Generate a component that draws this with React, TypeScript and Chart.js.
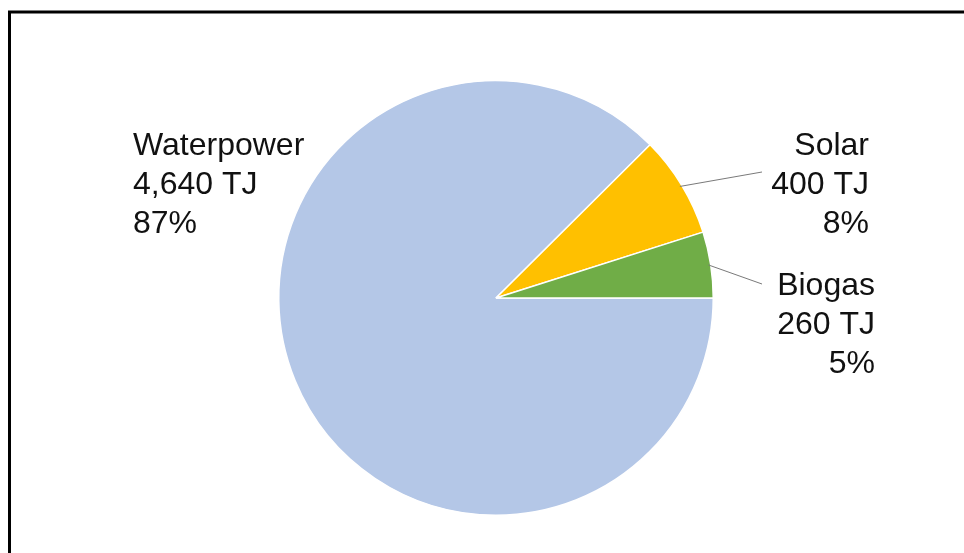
import React, { useEffect, useRef } from "react";
import { Chart, registerables } from "chart.js";

Chart.register(...registerables);

const categories = ["Waterpower", "Solar", "Biogas"];
const valuesTJ = [4640, 400, 260];
const percentLabels = ["87%", "8%", "5%"];
const sliceColors = ["#B4C7E7", "#FFC000", "#70AD47"];

// label placement relative to pie centre (px)
const labelLayout = [
  { dx: -363, dy: -143, align: "left" as CanvasTextAlign, leader: null as null | { dx: number; dy: number } },
  { dx: 373, dy: -143, align: "right" as CanvasTextAlign, leader: { dx: 266, dy: -126 } },
  { dx: 379, dy: -3, align: "right" as CanvasTextAlign, leader: { dx: 266, dy: -14 } },
];

const frameAndLabels = {
  id: "frameAndLabels",
  beforeDraw(chart: any) {
    const ctx = chart.ctx;
    ctx.save();
    ctx.fillStyle = "#ffffff";
    ctx.fillRect(0, 0, chart.width, chart.height);
    ctx.strokeStyle = "#000000";
    ctx.lineWidth = 3;
    ctx.beginPath();
    ctx.moveTo(9.5, chart.height + 10);
    ctx.lineTo(9.5, 12);
    ctx.lineTo(chart.width + 10, 12);
    ctx.stroke();
    ctx.restore();
  },
  afterDraw(chart: any) {
    const ctx = chart.ctx;
    const meta = chart.getDatasetMeta(0);
    ctx.save();
    meta.data.forEach((arc: any, i: number) => {
      const lay = labelLayout[i];
      const cx = arc.x;
      const cy = arc.y;
      if (lay.leader) {
        const mid = (arc.startAngle + arc.endAngle) / 2;
        const r = arc.outerRadius * 0.99;
        ctx.strokeStyle = "#7a7a7a";
        ctx.lineWidth = 1;
        ctx.beginPath();
        ctx.moveTo(cx + Math.cos(mid) * r, cy + Math.sin(mid) * r);
        ctx.lineTo(cx + lay.leader.dx, cy + lay.leader.dy);
        ctx.stroke();
      }
      const lines = [
        categories[i],
        valuesTJ[i].toLocaleString("en-US") + " TJ",
        percentLabels[i],
      ];
      ctx.fillStyle = "#111111";
      ctx.font = '32px "Liberation Sans", Arial, sans-serif';
      ctx.textAlign = lay.align;
      ctx.textBaseline = "alphabetic";
      lines.forEach((t, k) => {
        ctx.fillText(t, cx + lay.dx, cy + lay.dy + k * 39);
      });
    });
    ctx.restore();
  },
};

export default function App() {
  const ref = useRef<HTMLCanvasElement | null>(null);
  useEffect(() => {
    document.body.style.margin = "0";
    const chart = new Chart(ref.current as HTMLCanvasElement, {
      type: "pie",
      data: {
        labels: categories,
        datasets: [
          {
            data: valuesTJ,
            backgroundColor: sliceColors,
            borderColor: "#ffffff",
            borderWidth: 1.5,
          },
        ],
      },
      options: {
        responsive: false,
        animation: false,
        rotation: 90,
        layout: { padding: { top: 80, bottom: 37, left: 278, right: 250 } },
        plugins: {
          legend: { display: false },
          tooltip: { enabled: false },
          title: { display: false },
        },
      },
      plugins: [frameAndLabels],
    });
    return () => chart.destroy();
  }, []);
  return (
    <div style={{ width: 964, height: 553 }}>
      <canvas ref={ref} width={964} height={553} style={{ display: "block" }} />
    </div>
  );
}
